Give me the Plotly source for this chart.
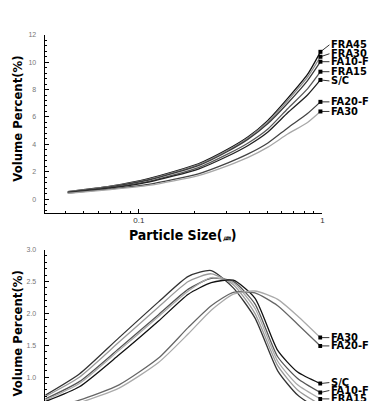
import math
import plotly.graph_objects as go

# ---------------- data ----------------
series = ["FRA45", "FRA30", "FA10-F", "FRA15", "S/C", "FA20-F", "FA30"]

# top panel: volume percent vs particle size (um)
top_x = [0.041, 0.07, 0.113, 0.211, 0.306, 0.394, 0.505, 0.647, 0.83, 0.976]
top_vals = {
    "FRA45":  [0.55, 0.95, 1.50, 2.58, 3.65, 4.55, 5.75, 7.35, 9.10, 10.75],
    "FRA30":  [0.55, 0.93, 1.45, 2.52, 3.58, 4.48, 5.65, 7.20, 8.90, 10.39],
    "FA10-F": [0.52, 0.90, 1.40, 2.45, 3.50, 4.38, 5.52, 7.00, 8.65, 10.03],
    "FRA15":  [0.50, 0.85, 1.30, 2.30, 3.30, 4.10, 5.12, 6.60, 8.05, 9.30],
    "S/C":    [0.48, 0.82, 1.25, 2.20, 3.15, 3.92, 4.90, 6.30, 7.60, 8.70],
    "FA20-F": [0.45, 0.75, 1.08, 1.85, 2.65, 3.30, 4.10, 5.20, 6.25, 7.10],
    "FA30":   [0.42, 0.70, 1.00, 1.72, 2.45, 3.05, 3.80, 4.75, 5.60, 6.40],
}

# bottom panel: distribution
bot_x = [0.031, 0.0474, 0.078, 0.128, 0.186, 0.248, 0.327, 0.429, 0.571, 0.733, 0.975]
bot_vals = {
    "FRA45":  [0.72, 1.05, 1.62, 2.18, 2.58, 2.67, 2.40, 1.93, 1.10, 0.72, 0.48],
    "FRA30":  [0.70, 1.00, 1.55, 2.10, 2.50, 2.62, 2.45, 2.00, 1.18, 0.80, 0.57],
    "FA10-F": [0.66, 0.93, 1.45, 1.98, 2.38, 2.55, 2.50, 2.15, 1.32, 0.98, 0.76],
    "FRA15":  [0.64, 0.90, 1.42, 1.95, 2.35, 2.56, 2.48, 2.08, 1.25, 0.88, 0.66],
    "S/C":    [0.62, 0.85, 1.35, 1.88, 2.30, 2.48, 2.52, 2.24, 1.42, 1.08, 0.90],
    "FA20-F": [0.50, 0.64, 0.88, 1.30, 1.78, 2.12, 2.33, 2.32, 2.12, 1.83, 1.49],
    "FA30":   [0.48, 0.60, 0.83, 1.23, 1.68, 2.05, 2.30, 2.35, 2.22, 1.96, 1.62],
}

x_tick_vals = [0.1, 1]
x_tick_text = ["0.1", "1"]
x_minor_vals = [0.04, 0.05, 0.06, 0.07, 0.08, 0.09, 0.2, 0.3, 0.4, 0.5, 0.6, 0.7, 0.8, 0.9]

# ---------------- styles ----------------
top_colors = {"FRA45": "#111111", "FRA30": "#8a8a8a", "FA10-F": "#3a3a3a", "FRA15": "#5a5a5a",
              "S/C": "#222222", "FA20-F": "#444444", "FA30": "#a8a8a8"}
bot_colors = {"FRA45": "#333333", "FRA30": "#9a9a9a", "FA10-F": "#555555", "FRA15": "#aaaaaa",
              "S/C": "#111111", "FA20-F": "#666666", "FA30": "#aaaaaa"}
top_label_dy = {"FRA45": -7, "FRA30": -3, "FA10-F": 0, "FRA15": 0, "S/C": 1, "FA20-F": 0, "FA30": 0}
bot_label_dy = {"FRA45": 0, "FRA30": 0, "FA10-F": -2, "FRA15": 0, "S/C": -1, "FA20-F": 0, "FA30": 0}

TITLE_FONT = "DejaVu Sans Condensed, Liberation Sans Narrow, Arial Narrow, sans-serif"
LABEL_FONT = dict(family=TITLE_FONT, size=11, color="black", weight="bold")

fig = go.Figure()

for s in series:
    fig.add_trace(go.Scatter(x=top_x, y=top_vals[s], mode="lines",
                             line=dict(color=top_colors[s], width=1.3, shape="spline", smoothing=0.6),
                             xaxis="x", yaxis="y", showlegend=False, hoverinfo="skip"))
fig.add_trace(go.Scatter(x=[top_x[-1]] * len(series), y=[top_vals[s][-1] for s in series], mode="markers",
                         marker=dict(symbol="square", size=4, color="black"), xaxis="x", yaxis="y",
                         showlegend=False, cliponaxis=False, hoverinfo="skip"))

for s in series:
    fig.add_trace(go.Scatter(x=bot_x, y=bot_vals[s], mode="lines",
                             line=dict(color=bot_colors[s], width=1.3, shape="spline", smoothing=0.6),
                             xaxis="x2", yaxis="y2", showlegend=False, hoverinfo="skip"))
fig.add_trace(go.Scatter(x=[bot_x[-1]] * len(series), y=[bot_vals[s][-1] for s in series], mode="markers",
                         marker=dict(symbol="square", size=4, color="black"), xaxis="x2", yaxis="y2",
                         showlegend=False, hoverinfo="skip"))

annotations = []
for s in series:
    annotations.append(dict(x=math.log10(top_x[-1]), y=top_vals[s][-1], xref="x", yref="y", text=s, showarrow=True,
                            arrowhead=0, arrowwidth=0.8, arrowcolor="black", ax=9, ay=top_label_dy[s],
                            xanchor="left", yanchor="middle", font=LABEL_FONT, standoff=0))
    if bot_vals[s][-1] > 0.64:
        annotations.append(dict(x=math.log10(bot_x[-1]), y=bot_vals[s][-1], xref="x2", yref="y2", text=s,
                                showarrow=True, arrowhead=0, arrowwidth=0.8, arrowcolor="black", ax=9,
                                ay=bot_label_dy[s], xanchor="left", yanchor="middle", font=LABEL_FONT, standoff=0))

TITLE = dict(family=TITLE_FONT, size=13, color="black", weight="bold")
annotations += [
    dict(x=184 / 369, y=1 - 233 / 401, xref="paper", yref="paper",
         text="Particle Size(<span style='font-size:8px'>㎛</span>)",
         showarrow=False, xanchor="center", yanchor="middle", font=dict(TITLE, size=14)),
    dict(x=18 / 369, y=1 - 116 / 401, xref="paper", yref="paper", text="Volume Percent(%)", textangle=-90,
         showarrow=False, xanchor="center", yanchor="middle", font=TITLE),
    dict(x=18 / 369, y=1 - 333 / 401, xref="paper", yref="paper", text="Volume Percent(%)", textangle=-90,
         showarrow=False, xanchor="center", yanchor="middle", font=TITLE),
]

xdom = [45 / 369, 325 / 369]
TICKFONT = dict(family="Arial, Liberation Sans, sans-serif", size=7, color="#777")
fig.update_layout(
    width=369, height=401, margin=dict(l=0, r=0, t=0, b=0),
    paper_bgcolor="white", plot_bgcolor="white",
    annotations=annotations,
    xaxis=dict(type="log", range=[-1.5135, 0], domain=xdom, anchor="y", showline=True, linecolor="black", linewidth=1,
               ticks="inside", ticklen=4, tickcolor="black", tickvals=x_tick_vals, ticktext=x_tick_text,
               minor=dict(tickvals=x_minor_vals, ticks="inside", ticklen=2, tickcolor="black"),
               showgrid=False, zeroline=False,
               tickfont=dict(family="Arial, Liberation Sans, sans-serif", size=8, color="#333")),
    yaxis=dict(range=[-1.0, 12], domain=[1 - 211 / 401, 1 - 31 / 401], anchor="x", showline=True, linecolor="black",
               linewidth=1, ticks="inside", ticklen=4, tickcolor="black", tick0=0, dtick=2,
               minor=dict(dtick=0.4, tick0=0, ticks="inside", ticklen=2, tickcolor="black"),
               showgrid=False, zeroline=False, ticklabelstandoff=6, tickfont=TICKFONT),
    xaxis2=dict(type="log", range=[-1.5135, 0], domain=xdom, anchor="y2", visible=False),
    yaxis2=dict(range=[0.627, 3.0], domain=[0, 1 - 248 / 401], anchor="x2", showline=True, linecolor="black",
                linewidth=1, ticks="inside", ticklen=4, tickcolor="black", tick0=0, dtick=0.5, tickformat=".1f",
                minor=dict(dtick=0.1, tick0=0, ticks="inside", ticklen=2, tickcolor="black"),
                showgrid=False, zeroline=False, ticklabelstandoff=6, tickfont=TICKFONT),
)

fig.write_html("out.html")
